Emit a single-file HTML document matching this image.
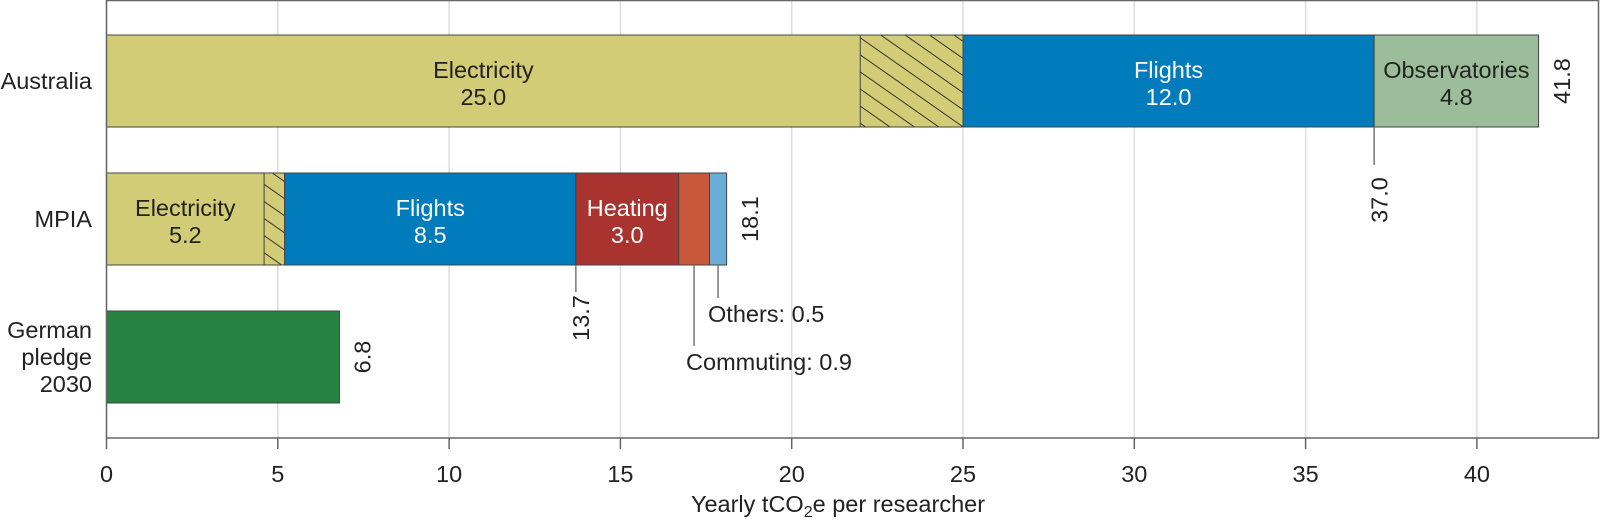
<!DOCTYPE html>
<html><head><meta charset="utf-8"><style>
body{margin:0;background:#fff}
svg{display:block;font-family:"Liberation Sans",Arial,sans-serif}
</style></head><body>
<svg id="chart" width="1600" height="520" viewBox="0 0 1600 520">
<defs>
<pattern id="hatch" width="14" height="14" patternUnits="userSpaceOnUse" patternTransform="rotate(-55)">
<rect width="14" height="14" fill="#d3cc77"/><line x1="0" y1="0" x2="0" y2="14" stroke="#222" stroke-width="1.8"/>
</pattern>
</defs>
<g id="grid"></g>
<g id="bars"></g>
<g id="ann"></g>
<g id="axis"></g>
<rect x="106.5" y="0.5" width="1492" height="437.5" fill="none" stroke="#666" stroke-width="1.5"/>
<text x="838" y="512" font-size="23.5" text-anchor="middle" fill="#222">Yearly tCO<tspan font-size="16" dy="5">2</tspan><tspan dy="-5">e per researcher</tspan></text>
</svg>
<script>
const categories = ["Australia", "MPIA", "German pledge 2030"];
const segNames = [["Electricity","Flights","Observatories"],["Electricity","Flights","Heating","Commuting","Others"],["Pledge"]];
const segValues = [[25.0,12.0,4.8],[5.2,8.5,3.0,0.9,0.5],[6.8]];
const hatchStart = [22.0, 4.6, null];
const totals = [41.8, 18.1, 6.8];
const ticks = [0,5,10,15,20,25,30,35,40];
const colors = {Electricity:"#d3cc77",Flights:"#007bbb",Observatories:"#9cbd99",Heating:"#a8332f",Commuting:"#c9573a",Others:"#6aaed8",Pledge:"#268240"};
const ns="http://www.w3.org/2000/svg";
const X0=106.5,K=34.26,FS=23.5;
const x=v=>X0+v*K;
const barTop=[35,173,311], barH=92;
function mk(tag,attrs,parent,text){const e=document.createElementNS(ns,tag);for(const k in attrs)e.setAttribute(k,attrs[k]);if(text!==undefined)e.textContent=text;parent.appendChild(e);return e;}
const grid=document.getElementById('grid'),bars=document.getElementById('bars'),ann=document.getElementById('ann'),axis=document.getElementById('axis');
ticks.forEach(t=>{
 const g=mk('line',{x1:x(t),x2:x(t),y1:0,y2:438,stroke:'#ddd','stroke-width':1.5},grid);
 
 
 const tk=mk('line',{x1:x(t),x2:x(t),y1:438,y2:449,stroke:'#666','stroke-width':1.5},axis);
 
 
 const lb=mk('text',{x:x(t),y:482,'font-size':FS,'text-anchor':'middle',fill:'#222'},axis,String(t));
 
 
});
const labelLines=[["Australia"],["MPIA"],["German","pledge","2030"]];
categories.forEach((c,i)=>{
 const cy=barTop[i]+barH/2;
 const lines=labelLines[i];
 const t=mk('text',{x:92,'font-size':FS,'text-anchor':'end',fill:'#222'},bars);
 
 
 lines.forEach((l,j)=>{mk('tspan',{x:92,y:cy+8+(j-(lines.length-1)/2)*27},t,l);});
 let acc=0;
 segValues[i].forEach((v,j)=>{
  const n=segNames[i][j];
  const r=mk('rect',{x:x(acc),y:barTop[i],width:v*K,height:barH,fill:colors[n],stroke:'#444','stroke-width':1},bars);
  
  
  if(j===0&&hatchStart[i]!==null){
   const h=mk('rect',{x:x(hatchStart[i]),y:barTop[i],width:(acc+v-hatchStart[i])*K,height:barH,fill:'url(#hatch)',stroke:'#444','stroke-width':1},bars);
   
   
  }
  if(v>=2.5&&n!=="Pledge"){
   const end=(j===0&&hatchStart[i]!==null)?hatchStart[i]:acc+v;
   const cx=(x(acc)+x(end))/2;
   const col=(n==="Flights"||n==="Heating")?'#fff':'#222';
   const lt=mk('text',{x:cx,'font-size':FS,'text-anchor':'middle',fill:col},bars);
   
   
   mk('tspan',{x:cx,y:cy-3},lt,n);
   mk('tspan',{x:cx,y:cy+24},lt,v.toFixed(1));
  }
  acc+=v;
 });
 const tx=x(totals[i])+25;
 const tl=mk('text',{x:tx,y:cy,'font-size':FS,'text-anchor':'middle',fill:'#222',transform:`rotate(-90 ${tx} ${cy})`},ann,totals[i].toFixed(1));
 
 
});
function vline(v,y1,y2){const l=mk('line',{x1:x(v),x2:x(v),y1:y1,y2:y2,stroke:'#777','stroke-width':1.5},ann);}
function rotLabel(v,cy,txt){const px=x(v)+7;const t=mk('text',{x:px,y:cy,'font-size':FS,'text-anchor':'middle',fill:'#222',transform:`rotate(-90 ${px} ${cy})`},ann,txt);}
const aus=segValues[0][0]+segValues[0][1];
vline(aus,127,165); rotLabel(aus,200,aus.toFixed(1));
const mp=segValues[1][0]+segValues[1][1];
vline(mp,265,292); rotLabel(mp,318,mp.toFixed(1));
const comm=mp+segValues[1][2]+segValues[1][3]/2;
vline(comm,265,346);
const c1=mk('text',{x:x(comm)-8,y:370,'font-size':FS,fill:'#222'},ann,"Commuting: "+segValues[1][3].toFixed(1));


const oth=mp+segValues[1][2]+segValues[1][3]+segValues[1][4]/2;
vline(oth,265,298);
const c2=mk('text',{x:x(oth)-10,y:322,'font-size':FS,fill:'#222'},ann,"Others: "+segValues[1][4].toFixed(1));


document.querySelectorAll('text').forEach(t=>{if(t.getAttribute('transform'))t.setAttribute('dominant-baseline','middle');});
</script>
</body></html>
